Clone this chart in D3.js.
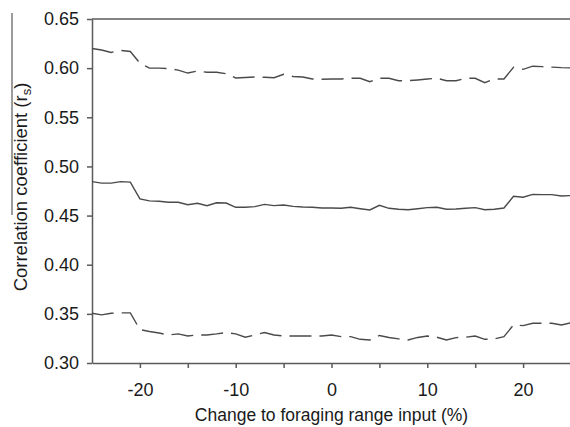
<!DOCTYPE html>
<html>
<head>
<meta charset="utf-8">
<script src="https://cdn.jsdelivr.net/npm/d3@7"></script>
<style>
  body { margin: 0; background: #fff; }
  text { font-family: Arial, "Liberation Sans", sans-serif; fill: #1a1a1a; }
</style>
</head>
<body>
<div class="chart"></div>
<script>
// change to foraging range input (%)
const changePct = [-25, -24, -23, -22, -21, -20, -19, -18, -17, -16, -15, -14, -13, -12, -11,
    -10, -9, -8, -7, -6, -5, -4, -3, -2, -1, 0, 1, 2, 3, 4, 5, 6, 7, 8, 9, 10,
    11, 12, 13, 14, 15, 16, 17, 18, 19, 20, 21, 22, 23, 24, 25];

// upper bound (dashed)
const upper = [0.620, 0.6185, 0.616, 0.618, 0.617, 0.605, 0.600, 0.600, 0.5995, 0.598, 0.595,
    0.597, 0.5958, 0.5958, 0.5944, 0.590, 0.5905, 0.591, 0.5907, 0.5903, 0.5937, 0.5915,
    0.591, 0.589, 0.5887, 0.589, 0.589, 0.5897, 0.5897, 0.5862, 0.5897, 0.5897, 0.5872,
    0.5872, 0.588, 0.589, 0.5897, 0.5872, 0.5872, 0.5897, 0.5897, 0.5852, 0.589, 0.589,
    0.6009, 0.5988, 0.602, 0.6015, 0.601, 0.6005, 0.6003];

// correlation coefficient (solid)
const middle = [0.4845, 0.483, 0.483, 0.4845, 0.484, 0.467, 0.465, 0.4645, 0.4635, 0.4635,
    0.461, 0.4625, 0.460, 0.463, 0.4628, 0.4584, 0.4584, 0.4591, 0.4614, 0.4601, 0.4608,
    0.4594, 0.4587, 0.4584, 0.4577, 0.4577, 0.4574, 0.4584, 0.457, 0.4557, 0.4604, 0.4574,
    0.4564, 0.456, 0.457, 0.4581, 0.4584, 0.4564, 0.4567, 0.4574, 0.4581, 0.456, 0.4564,
    0.4577, 0.4696, 0.4686, 0.4716, 0.4713, 0.4713, 0.4699, 0.4703];

// lower bound (dashed)
const lower = [0.3506, 0.349, 0.3506, 0.351, 0.351, 0.334, 0.332, 0.3305, 0.3285, 0.3296,
    0.3275, 0.3285, 0.3285, 0.3296, 0.331, 0.3296, 0.3262, 0.3285, 0.331, 0.3285, 0.3275,
    0.3275, 0.3275, 0.3275, 0.3275, 0.3285, 0.3268, 0.3268, 0.3241, 0.3234, 0.328, 0.326,
    0.3245, 0.3234, 0.326, 0.3275, 0.3262, 0.3234, 0.3258, 0.3262, 0.3275, 0.3241, 0.3245,
    0.3268, 0.3387, 0.338, 0.3404, 0.3404, 0.3404, 0.3387, 0.341];

const xTicks = [-20, -15, -10, -5, 0, 5, 10, 15, 20];
const xLabelled = [-20, -10, 0, 10, 20];
const yTicks = [0.30, 0.35, 0.40, 0.45, 0.50, 0.55, 0.60, 0.65];

const W = 570, H = 427;
const plot = {left: 92, top: 19, bottom: 363, right: 571};

const svg = d3.select('.chart')
    .append('svg')
    .attr('width', W)
    .attr('height', H);

const xScale = d3.scaleLinear()
    .domain([-25, 25])
    .range([plot.left, plot.right]);
const yScale = d3.scaleLinear()
    .domain([0.30, 0.65])
    .range([plot.bottom, plot.top]);

const axisColor = '#5a5a5a';

// top frame line
svg.append('line')
    .attr('x1', plot.left).attr('x2', W)
    .attr('y1', plot.top).attr('y2', plot.top)
    .attr('stroke', axisColor)
    .attr('stroke-width', 1.5);

const xAxis = d3.axisBottom(xScale)
    .tickValues(xTicks)
    .tickSize(5)
    .tickSizeOuter(0)
    .tickPadding(15)
    .tickFormat(d => xLabelled.includes(d) ? String(d) : '');

svg.append('g')
    .attr('class', 'axis x-axis')
    .attr('transform', `translate(0, ${plot.bottom})`)
    .call(xAxis);

const yAxis = d3.axisLeft(yScale)
    .tickValues(yTicks)
    .tickSize(5)
    .tickSizeOuter(0)
    .tickPadding(8)
    .tickFormat(d3.format('.2f'));

svg.append('g')
    .attr('class', 'axis y-axis')
    .attr('transform', `translate(${plot.left}, 0)`)
    .call(yAxis);

svg.selectAll('.axis path, .axis line')
    .attr('stroke', axisColor)
    .attr('stroke-width', 1.5);
svg.selectAll('.axis text')
    .attr('font-size', 18)
    .attr('fill', '#1a1a1a')
    .style('font-family', 'Arial, "Liberation Sans", sans-serif');

const line = d3.line()
    .x((d, i) => xScale(changePct[i]))
    .y(d => yScale(d));

const series = [
    {values: upper, dash: '22,8'},
    {values: middle, dash: null},
    {values: lower, dash: '22,8'}
];

svg.selectAll('.series')
    .data(series)
    .enter()
    .append('path')
    .attr('class', 'series')
    .attr('fill', 'none')
    .attr('stroke', '#4a4a4a')
    .attr('stroke-width', 1.4)
    .attr('stroke-dasharray', d => d.dash)
    .attr('d', d => line(d.values));

// axis titles
svg.append('text')
    .attr('x', xScale(0))
    .attr('y', 421)
    .attr('text-anchor', 'middle')
    .attr('font-size', 17.5)
    .text('Change to foraging range input (%)');

const yLabel = svg.append('text')
    .attr('transform', 'translate(27, 187) rotate(-90)')
    .attr('text-anchor', 'middle')
    .attr('font-size', 18.5);
yLabel.append('tspan').text('Correlation coefficient (r');
yLabel.append('tspan')
    .attr('font-size', 13)
    .attr('dy', 4)
    .text('s');
yLabel.append('tspan')
    .attr('dy', -4)
    .text(')');

svg.append('line')
    .attr('x1', 12).attr('x2', 12)
    .attr('y1', 13).attr('y2', 215)
    .attr('stroke', axisColor)
    .attr('stroke-width', 1.2);
</script>
</body>
</html>
